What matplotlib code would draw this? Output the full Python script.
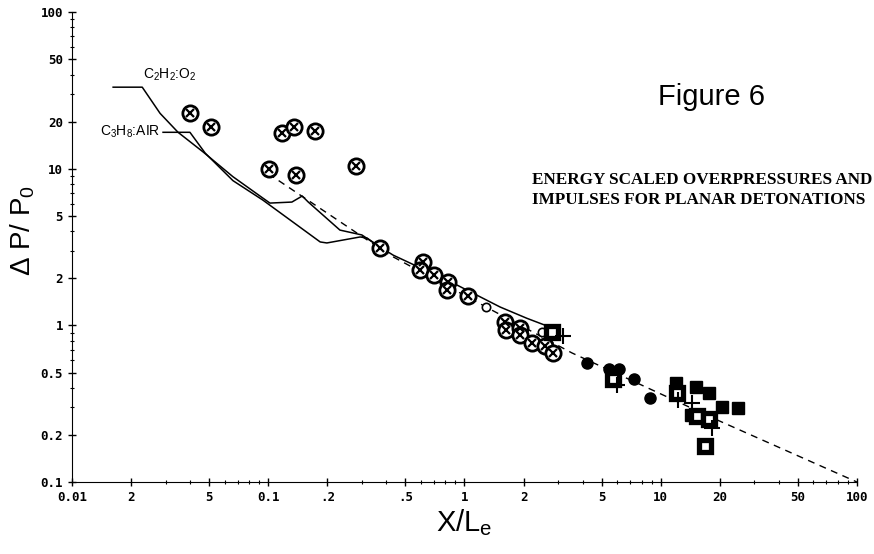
import matplotlib
matplotlib.use('agg')
import matplotlib.pyplot as plt

# calculated curves
c2h2_x = [0.0162, 0.0228, 0.0281, 0.0347, 0.0466, 0.0661, 0.0939, 0.102, 0.132, 0.149,
          0.160, 0.232, 0.300, 0.358, 0.433, 0.916, 1.52, 2.08, 2.82]
c2h2_y = [33.2, 33.2, 22.6, 17.1, 12.8, 8.9, 6.50, 6.04, 6.13, 6.70,
          6.13, 4.06, 3.78, 3.26, 2.81, 1.81, 1.31, 1.11, 0.96]
c3h8_x = [0.0291, 0.0399, 0.0477, 0.0661, 0.0939, 0.184, 0.199, 0.294, 0.319, 0.358]
c3h8_y = [17.1, 17.1, 12.6, 8.4, 6.31, 3.41, 3.36, 3.67, 3.61, 3.26]
fit_x = [0.1, 0.108, 0.417, 1.35, 3.53, 19.4, 100]
fit_y = [9.3, 8.73, 2.81, 1.27, 0.667, 0.249, 0.1]

# measured points
ox_x = [0.0399, 0.0510, 0.101, 0.117, 0.135, 0.173, 0.138, 0.280,
        0.371, 0.615, 0.593, 0.700, 0.824, 0.815, 1.04, 1.61, 1.63, 1.92, 1.92,
        2.21, 2.57, 2.82]
ox_y = [22.7, 18.5, 9.96, 16.9, 18.5, 17.4, 9.12, 10.4,
        3.12, 2.54, 2.26, 2.10, 1.89, 1.68, 1.54, 1.05, 0.935, 0.962, 0.869,
        0.773, 0.739, 0.667]
oc_x = [1.29, 2.48]
oc_y = [1.31, 0.908]
fc_x = [4.21, 5.45, 6.13, 7.31, 8.81]
fc_y = [0.575, 0.527, 0.527, 0.455, 0.344]
fs_x = [11.97, 15.1, 17.6, 20.5, 24.8, 14.2]
fs_y = [0.429, 0.404, 0.371, 0.301, 0.297, 0.268]
os_x = [2.79, 5.71, 12.1, 15.3, 17.6, 16.8]
os_y = [0.908, 0.455, 0.371, 0.264, 0.253, 0.170]
pl_x = [3.18, 5.98, 12.2, 14.4, 18.2]
pl_y = [0.856, 0.417, 0.334, 0.320, 0.221]

xticks = [0.01, 0.02, 0.05, 0.1, 0.2, 0.5, 1, 2, 5, 10, 20, 50, 100]
xlabels = ['0.01', '2', '5', '0.1', '.2', '.5', '1', '2', '5', '10', '20', '50', '100']
yticks = [0.1, 0.2, 0.5, 1, 2, 5, 10, 20, 50, 100]
ylabels = ['0.1', '0.2', '0.5', '1', '2', '5', '10', '20', '50', '100']

plt.rcParams['mathtext.default'] = 'regular'
plt.rcParams['font.family'] = ['Liberation Sans', 'DejaVu Sans']

fig = plt.figure(figsize=(8.74, 5.54), dpi=100)
ax = fig.add_axes([0.0824, 0.130, 0.898, 0.848])
ax.set_xscale('log')
ax.set_yscale('log')
ax.set_xlim(0.01, 100)
ax.set_ylim(0.1, 100)

ax.plot(c2h2_x, c2h2_y, color='k', lw=1.1, zorder=2)
ax.plot(c3h8_x, c3h8_y, color='k', lw=1.1, zorder=2)
ax.plot(fit_x, fit_y, color='k', lw=1.0, dashes=(5, 4), zorder=2)

ax.plot(ox_x, ox_y, 'o', mfc='white', mec='k', ms=11, mew=2, zorder=3)
ax.plot(ox_x, ox_y, 'x', color='k', ms=6, mew=1.6, zorder=4)
ax.plot(oc_x, oc_y, 'o', mfc='white', mec='k', ms=6, mew=1.2, zorder=3)
ax.plot(fc_x, fc_y, 'o', color='k', ms=8, zorder=3)
ax.plot(fs_x, fs_y, 's', color='k', ms=9, zorder=3)
ax.plot(os_x, os_y, 's', mfc='white', mec='k', ms=8, mew=3.8, zorder=4)
ax.plot(pl_x, pl_y, '+', color='k', ms=11, mew=1.5, zorder=4)

ax.text(0.023, 39.6, 'C$_2$H$_2$:O$_2$', fontsize=10, ha='left', va='center')
ax.text(0.0281, 17.3, 'C$_3$H$_8$:AIR', fontsize=10, ha='right', va='center')

ax.set_xticks(xticks)
ax.set_xticklabels(xlabels)
ax.set_yticks(yticks)
ax.set_yticklabels(ylabels)
for lab in ax.get_xticklabels() + ax.get_yticklabels():
    lab.set_family('DejaVu Sans Mono')
    lab.set_fontsize(9)
    lab.set_weight('bold')
ax.tick_params(which='major', direction='inout', length=6, width=1)
ax.tick_params(which='minor', direction='inout', length=3, width=0.8)
ax.spines['top'].set_visible(False)
ax.spines['right'].set_visible(False)

ax.set_xlabel('X/L$_e$', fontsize=21, labelpad=2)
ax.set_ylabel('\u0394 P/ P$_0$', fontsize=20, labelpad=2)
ax.yaxis.set_label_coords(-0.045, 0.535)

fig.text(0.753, 0.825, 'Figure 6', fontsize=21, ha='left', va='center')
fig.text(0.609, 0.657, 'ENERGY SCALED OVERPRESSURES AND\nIMPULSES FOR PLANAR DETONATIONS',
         family='Liberation Serif', fontsize=12.3, weight='bold', ha='left', va='center',
         linespacing=1.3)

fig.savefig('out.png', dpi=100)
